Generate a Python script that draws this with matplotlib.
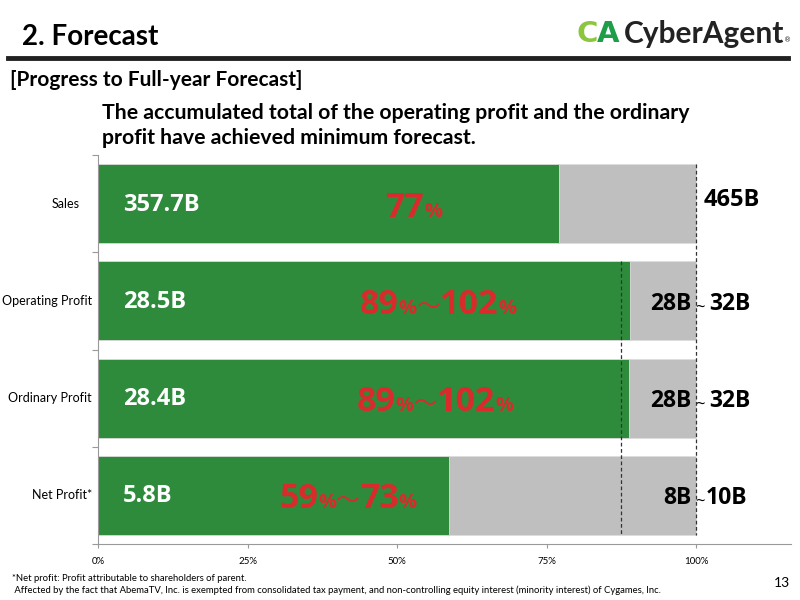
import matplotlib.pyplot as plt
from matplotlib.offsetbox import TextArea, HPacker, AnnotationBbox

# data
categories = ["Sales", "Operating Profit", "Ordinary Profit", "Net Profit*"]
progress = [0.77, 0.89, 0.888, 0.587]          # share of (upper) full-year forecast
actual_labels = ["357.7B", "28.5B", "28.4B", "5.8B"]
pct_low = ["77", "89", "89", "59"]
pct_high = [None, "102", "102", "73"]
fc_low = ["465B", "28B", "28B", "8B"]
fc_high = [None, "32B", "32B", "10B"]
min_forecast = 0.875                           # 28B / 32B
xticks = [0, 0.25, 0.5, 0.75, 1.0]
xtick_labels = ["0%", "25%", "50%", "75%", "100%"]

GREEN = "#2E8B3C"
GREY = "#BFBFBF"
RED = "#D92B2B"
BOLD = ["Open Sans", "DejaVu Sans"]
HEAD = ["Lato", "DejaVu Sans"]

fig = plt.figure(figsize=(8, 6), dpi=100)
ax = fig.add_axes([0.1225, 0.0933, 0.8658, 0.6484])

ypos = [3.5, 2.5, 1.5, 0.5]
h = 0.81
ax.barh(ypos, [1.0] * 4, height=h, color=GREY, edgecolor="#dddddd", linewidth=0.6)
ax.barh(ypos, progress, height=h, color=GREEN, edgecolor="#dddddd", linewidth=0.6)

# dashed forecast guides
ax.plot([1.0, 1.0], [ypos[0] + h / 2, ypos[-1] - h / 2], color="#333333",
        lw=0.9, ls=(0, (3, 2)))
ax.plot([min_forecast] * 2, [ypos[1] + h / 2, ypos[-1] - h / 2], color="#333333",
        lw=0.9, ls=(0, (3, 2)))

ax.set_xlim(0, 1.158)
ax.set_ylim(0, 4)
for s in ["top", "right"]:
    ax.spines[s].set_visible(False)
for s in ["left", "bottom"]:
    ax.spines[s].set_color("#999999")
ax.set_xticks(xticks)
ax.set_xticklabels(xtick_labels, fontsize=7, family=HEAD)
ax.tick_params(axis="x", length=3, color="#999999", pad=6)
ax.set_yticks([0, 1, 2, 3, 4])
ax.set_yticklabels([])
ax.tick_params(axis="y", length=4, color="#999999")

label_pad = [13, 4.5, 4.5, 4]
for y, cat, p in zip(ypos, categories, label_pad):
    ax.annotate(cat, xy=(0, y), xycoords=("axes fraction", "data"),
                xytext=(-p, 0), textcoords="offset points",
                ha="right", va="center", fontsize=9, family=HEAD)

# values inside the green bars
for y, lab in zip(ypos, actual_labels):
    ax.text(0.042, y - 0.01, lab, color="white", fontsize=17, fontweight="bold",
            family=BOLD, va="center", ha="left")

# red progress percentages
pct_x = [0.528, 0.569, 0.564, 0.418]
big = dict(color=RED, fontsize=24.5, fontweight="bold", family=BOLD)
small = dict(color=RED, fontsize=14.5, fontweight="bold", family=BOLD)
for y, lo, hi, x in zip(ypos, pct_low, pct_high, pct_x):
    parts = [TextArea(lo, textprops=big), TextArea("%", textprops=small)]
    if hi:
        parts += [TextArea("～", textprops=dict(color=RED, fontsize=17,
                                               family=["Noto Sans CJK JP", "DejaVu Sans"])),
                  TextArea(hi, textprops=big), TextArea("%", textprops=small)]
    box = HPacker(children=parts, align="baseline", pad=0, sep=0)
    ax.add_artist(AnnotationBbox(box, (x, y - 0.04), frameon=False, box_alignment=(0.5, 0.5),
                                 annotation_clip=False))

# forecast values on the right
hi_x = [None, 1.022, 1.022, 1.016]
for y, lo, hi, hx in zip(ypos, fc_low, fc_high, hi_x):
    yy = y - 0.03
    if hi is None:
        ax.text(1.012, y + 0.04, lo, fontsize=17, fontweight="bold", family=BOLD,
                va="center", ha="left")
    else:
        ax.text(0.993, yy, lo, fontsize=16.5, fontweight="bold", family=BOLD,
                va="center", ha="right")
        ax.text(1.006, yy - 0.05, "~", fontsize=12, family=BOLD, va="center", ha="center")
        ax.text(hx, yy, hi, fontsize=16.5, fontweight="bold", family=BOLD,
                va="center", ha="left")

# slide header
fig.text(0.027, 0.938, "2. Forecast", fontsize=20, fontweight="bold", family=HEAD, va="center")
fig.add_artist(plt.Line2D([0.01, 0.985], [0.903, 0.903], color="#222222", lw=3.5))
fig.text(0.721, 0.943, "C", fontsize=21, fontweight="heavy", color="#8CC63F",
         family="DejaVu Sans", va="center")
fig.text(0.746, 0.943, "A", fontsize=21, fontweight="heavy", color="#1E9E48",
         family="DejaVu Sans", va="center")
fig.text(0.780, 0.943, "CyberAgent", fontsize=21.5, fontweight="bold", color="#222222",
         family=HEAD, va="center")
fig.text(0.980, 0.932, "®", fontsize=5, color="#222222", va="center")

fig.text(0.012, 0.866, "[Progress to Full-year Forecast]", fontsize=15, fontweight="bold",
         family=HEAD, va="center")
fig.text(0.128, 0.811, "The accumulated total of the operating profit and the ordinary",
         fontsize=15.3, fontweight="bold", family=HEAD, va="center")
fig.text(0.128, 0.770, "profit have achieved minimum forecast.",
         fontsize=15.3, fontweight="bold", family=HEAD, va="center")

# footnotes
fig.text(0.015, 0.036, "*Net profit: Profit attributable to shareholders of parent.",
         fontsize=6.8, family=HEAD, va="center")
fig.text(0.015, 0.017, " Affected by the fact that AbemaTV, Inc. is exempted from consolidated "
         "tax payment, and non-controlling equity interest (minority interest) of Cygames, Inc.",
         fontsize=6.8, family=HEAD, va="center")
fig.text(0.988, 0.028, "13", fontsize=10, family=HEAD, va="center", ha="right")

fig.savefig("out.png", dpi=100)
